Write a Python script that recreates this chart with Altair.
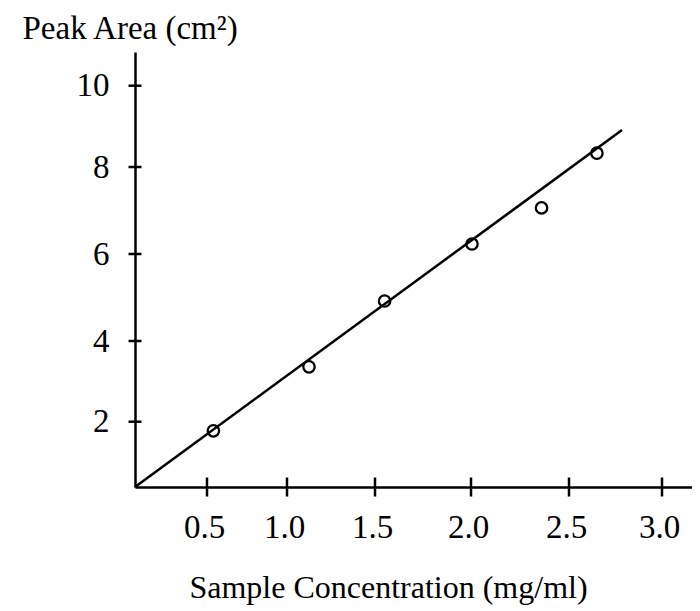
import altair as alt
import pandas as pd

# Data
conc = [0.54, 1.125, 1.55, 2.005, 2.36, 2.65]          # mg/ml
area = [1.72, 3.36, 4.92, 6.23, 7.06, 8.34]             # cm^2
fit_x = [0.0, 2.785]
fit_y = [0.0, 8.91]
x_ticks = [0.5, 1.0, 1.5, 2.0, 2.5, 3.0]
y_ticks = [2, 4, 6, 8, 10]

W, H = 557, 435
FONT = "Liberation Serif"

pts = pd.DataFrame({"conc": conc, "area": area})
fit = pd.DataFrame({"conc": fit_x, "area": fit_y})
xt = pd.DataFrame({"conc": x_ticks, "area": [0.0] * len(x_ticks)})
yt = pd.DataFrame({"conc": [0.0] * len(y_ticks), "area": y_ticks})

# hand-drawn axes: piecewise linear scales following the drawn tick spacing
xscale = alt.Scale(domain=[0, 0.5, 1.0, 1.5, 2.0, 2.5, 3.0, 3.16],
                   range=[0, 72, 152, 240, 336, 434, 527, 557],
                   zero=False, nice=False)
yscale = alt.Scale(domain=[0, 2, 4, 6, 8, 10, 10.83],
                   range=[435, 369.7, 289, 202, 115, 33.7, 0],
                   zero=False, nice=False)

xaxis = alt.Axis(title="Sample Concentration (mg/ml)", values=x_ticks, format=".1f",
                 ticks=False, tickSize=0, grid=False, domainColor="black", domainWidth=2.5,
                 labelFont=FONT, labelFontSize=33, labelColor="black",
                 labelPadding=40, labelBaseline="middle", labelOffset=-3,
                 titleFont=FONT, titleFontSize=32, titleFontWeight="normal", titleColor="black",
                 titleX=253, titleY=100, titleBaseline="middle", titleAnchor="start", titleAlign="center")
yaxis = alt.Axis(title="Peak Area (cm²)", values=y_ticks, format="d",
                 ticks=False, tickSize=0, grid=False, domainColor="black", domainWidth=2.5,
                 labelFont=FONT, labelFontSize=33, labelColor="black", labelPadding=26,
                 titleFont=FONT, titleFontSize=33, titleFontWeight="normal", titleColor="black",
                 titleAngle=0, titleAlign="left", titleBaseline="middle", titleX=-113, titleY=-24)

X = alt.X("conc:Q", scale=xscale, axis=xaxis)
Y = alt.Y("area:Q", scale=yscale, axis=yaxis)

line = alt.Chart(fit).mark_line(color="black", strokeWidth=2.5, clip=False).encode(x=X, y=Y)
points = alt.Chart(pts).mark_point(shape="circle", filled=False, color="black",
                                   size=130, strokeWidth=2.3, opacity=1).encode(x=X, y=Y)
xtick_marks = alt.Chart(xt).mark_tick(orient="vertical", color="black", size=19, opacity=1,
                                      thickness=2.5, clip=False).encode(x=X, y=Y)
ytick_marks = alt.Chart(yt).mark_tick(orient="horizontal", color="black", size=13, opacity=1,
                                      thickness=2.5, clip=False).encode(x=X, y=Y)

chart = alt.layer(line, points, xtick_marks, ytick_marks).properties(
    width=W, height=H,
    autosize=alt.AutoSizeParams(type="none"),
    padding={"left": 127, "top": 44, "right": 0, "bottom": 118},
    background="white",
).configure_view(stroke=None)

chart.save("out.html", embed_options={"renderer": "svg", "actions": False})
